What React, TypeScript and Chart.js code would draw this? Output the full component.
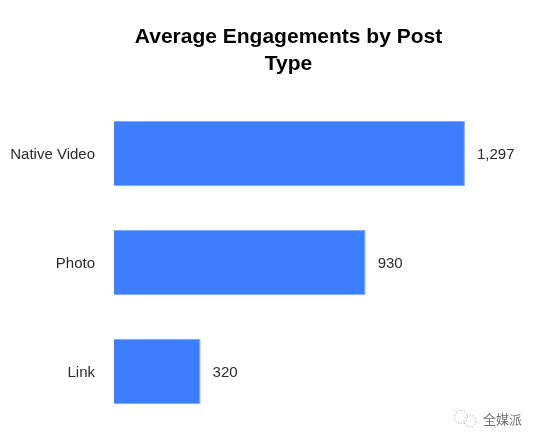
import React, { useEffect, useRef } from "react";
import { Chart, registerables } from "chart.js";

Chart.register(...registerables);

const categories = ["Native Video", "Photo", "Link"];
const engagements = [1297, 930, 320];
const chartTitle = ["Average Engagements by Post", "Type"];
const watermark = "全媒派";
const FONT = "'Liberation Sans', Arial, sans-serif";

const valueLabels = {
  id: "valueLabels",
  afterDatasetsDraw(chart: any) {
    const { ctx } = chart;
    const meta = chart.getDatasetMeta(0);
    ctx.save();
    ctx.font = `15px ${FONT}`;
    ctx.fillStyle = "#2b2b2b";
    ctx.textAlign = "left";
    ctx.textBaseline = "middle";
    meta.data.forEach((bar: any, i: number) => {
      ctx.fillText(engagements[i].toLocaleString("en-US"), bar.x + 12, bar.y + 1);
    });
    ctx.restore();
  },
};

const watermarkPlugin = {
  id: "watermarkMark",
  afterDraw(chart: any) {
    const { ctx } = chart;
    ctx.save();
    ctx.strokeStyle = "#9a9a9a";
    ctx.lineWidth = 0.7;
    ctx.setLineDash([1.5, 1.5]);
    ctx.beginPath();
    ctx.arc(461, 417, 6.5, 0, Math.PI * 2);
    ctx.stroke();
    ctx.beginPath();
    ctx.arc(470, 421, 6, 0, Math.PI * 2);
    ctx.stroke();
    ctx.setLineDash([]);
    ctx.font = `13px 'Noto Sans CJK SC', sans-serif`;
    ctx.fillStyle = "#6f6f6f";
    ctx.textAlign = "left";
    ctx.textBaseline = "middle";
    ctx.fillText(watermark, 483, 419);
    ctx.restore();
  },
};

export default function App() {
  const ref = useRef<HTMLCanvasElement | null>(null);

  useEffect(() => {
    const chart = new Chart(ref.current as HTMLCanvasElement, {
      type: "bar",
      data: {
        labels: categories,
        datasets: [
          {
            data: engagements,
            backgroundColor: "#3d7eff",
            borderColor: "#7fa9ff",
            borderWidth: 1,
            categoryPercentage: 1,
            barPercentage: 0.6,
          },
        ],
      },
      options: {
        indexAxis: "y",
        animation: false,
        responsive: false,
        layout: { padding: { top: 0, right: -39, bottom: 16, left: 0 } },
        scales: {
          x: { display: false, min: 0, max: 1567 },
          y: {
            afterFit(scale: any) {
              scale.width = 114;
              scale.paddingTop = 0;
              scale.paddingBottom = 0;
            },
            border: { display: false },
            grid: { display: false, drawTicks: false },
            ticks: { color: "#2b2b2b", padding: 19, labelOffset: 1.5, font: { family: FONT, size: 15 } },
          },
        },
        plugins: {
          legend: { display: false },
          tooltip: { enabled: false },
          title: {
            display: true,
            text: chartTitle,
            color: "#000000",
            font: { family: FONT, size: 21, weight: "bold", lineHeight: 1.29 },
            padding: { top: 24, bottom: 21 },
          },
        },
      },
      plugins: [valueLabels, watermarkPlugin],
    } as any);
    return () => chart.destroy();
  }, []);

  return (
    <div style={{ position: "absolute", left: 0, top: 0, width: 538, height: 442 }}>
      <canvas ref={ref} width={538} height={442} style={{ display: "block" }} />
    </div>
  );
}
